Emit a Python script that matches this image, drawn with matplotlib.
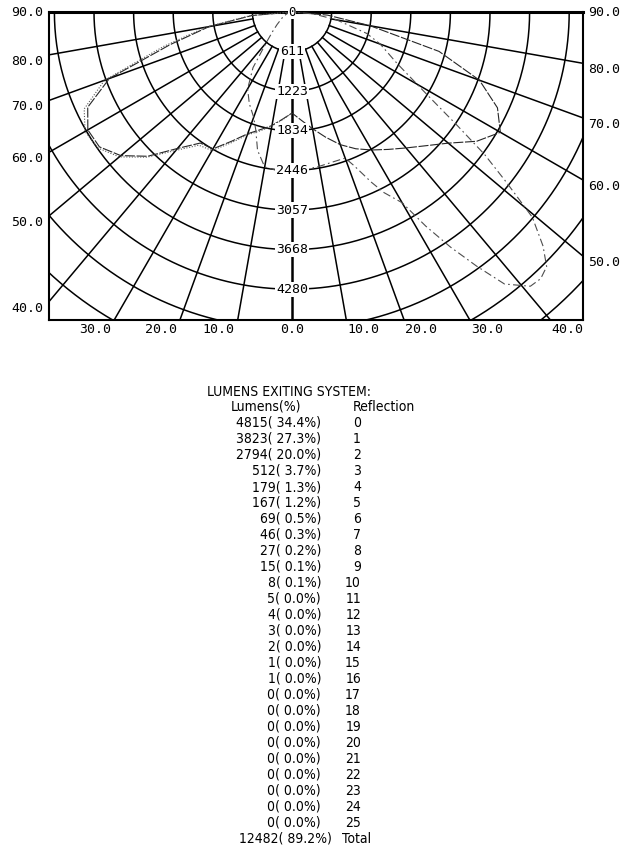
import numpy as np
import matplotlib
matplotlib.use("Agg")
import matplotlib.pyplot as plt
from matplotlib import font_manager as fm

W, H = 623, 850

# polar grid
ring_step = 611.4
ring_labels = [611, 1223, 1834, 2446, 3057, 3668, 4280]
spoke_angles = [10, 20, 30, 40, 50, 60, 70, 80, 90]
left_ticks = [90, 80, 70, 60, 50, 40]
right_ticks = [90, 80, 70, 60, 50]
bottom_left_ticks = [30, 20, 10]
bottom_right_ticks = [10, 20, 30, 40]

# candela curves (angle from nadir, negative = left side)
a_ang = [-90, -85, -80, -75, -70, -65, -60, -55, -50, -45, -40, -35, -30, -25, -20, -15, -10, -5, 0,
         5, 10, 15, 20, 25, 30, 35, 40, 45, 50, 55, 60, 65, 70, 75, 80, 85, 90]
a_cd = [0, 620, 1300, 1950, 3000, 3480, 3640, 3630, 3450, 3150, 2750, 2470, 2440, 2200, 2000, 1880, 1780, 1660, 1560,
        1680, 1830, 2000, 2180, 2330, 2460, 2590, 2740, 2920, 3150, 3480, 3715, 3500, 3080, 2350, 1230, 550, 0]

b_ang = [-90, -80, -70, -60, -50, -45, -40, -35, -30, -25, -20, -17, -14, -10, -5, 0,
         5, 10, 15, 20, 22, 25, 27, 30, 32, 34, 36, 38, 41, 43, 45, 47, 49.5, 51.5, 53.5, 55.5, 58.5,
         64, 70, 74, 80, 85, 90]
b_cd = [0, 40, 90, 170, 300, 420, 620, 1050, 1370, 1560, 1730, 1910, 2200, 2430, 2460, 2450,
        2440, 2420, 2400, 2400, 2560, 2900, 3130, 3400, 3900, 4380, 4850, 5330, 5610, 5630, 5560, 5300, 4880, 4240,
        3700, 3100, 2450, 1800, 1450, 1200, 700, 330, 0]

c_ang = [-90, -85, -80, -75, -70, -65, -60, -55, -50, -45, -40, -35, -30, -25, -20, -15, -10, -5, 0]
c_cd = [0, 650, 1350, 2050, 3080, 3540, 3690, 3660, 3480, 3170, 2790, 2510, 2470, 2230, 2020, 1900, 1790, 1670, 1560]

# lumens table
reflection = list(range(26))
lumens = [4815, 3823, 2794, 512, 179, 167, 69, 46, 27, 15, 8, 5, 4, 3, 2, 1, 1,
          0, 0, 0, 0, 0, 0, 0, 0, 0]
percent = [34.4, 27.3, 20.0, 3.7, 1.3, 1.2, 0.5, 0.3, 0.2, 0.1, 0.1, 0.0, 0.0, 0.0, 0.0, 0.0, 0.0,
           0.0, 0.0, 0.0, 0.0, 0.0, 0.0, 0.0, 0.0, 0.0]
total_lumens = 12482
total_percent = 89.2

table_font = fm.FontProperties(family="DejaVu Sans", stretch="condensed", size=10)

fig = plt.figure(figsize=(W / 100, H / 100), dpi=100)

# plot box in pixels
bx0, bx1, by0, by1 = 49, 583, 12, 320
ox = 292
k = 39.6 / ring_step  # pixels per candela
ax = fig.add_axes([bx0 / W, 1 - by1 / H, (bx1 - bx0) / W, (by1 - by0) / H])
ax.set_xlim((bx0 - ox) / k, (bx1 - ox) / k)
ax.set_ylim(-(by1 - by0) / k, 0)
x0, x1 = ax.get_xlim()
y0 = ax.get_ylim()[0]

mono = "DejaVu Sans Mono"

# rings
t = np.radians(np.linspace(-90, 90, 361))
for i in range(1, 12):
    r = ring_step * i
    ax.plot(r * np.sin(t), -r * np.cos(t), color="black", lw=1.1, zorder=2)

# spokes
for a in spoke_angles:
    for side in (-1, 1):
        ang = np.radians(a) * side
        rr = np.array([ring_step, 9000])
        ax.plot(rr * np.sin(ang), -rr * np.cos(ang), color="black", lw=1.1, zorder=2)
ax.plot([0, 0], [0, y0], color="black", lw=1.8, zorder=2)


def polar_xy(ang, cd):
    ang = np.radians(np.array(ang, dtype=float))
    cd = np.array(cd, dtype=float)
    return cd * np.sin(ang), -cd * np.cos(ang)


xa, ya = polar_xy(a_ang, a_cd)
ax.plot(xa, ya, color="0.15", lw=0.8, ls=(0, (9, 1.5)), zorder=3)
xb, yb = polar_xy(b_ang, b_cd)
ax.plot(xb, yb, color="0.3", lw=0.8, ls=(0, (7, 3, 1.5, 3)), zorder=3)
xc, yc = polar_xy(c_ang, c_cd)
ax.plot(xc, yc, color="0.35", lw=0.8, ls=(0, (1, 1.5)), zorder=3)

# ring labels
for i, lab in enumerate(ring_labels):
    ax.text(0, -ring_step * (i + 1), str(lab), ha="center", va="center", fontsize=9.5,
            family=mono, zorder=5, bbox=dict(boxstyle="square,pad=0.08", fc="white", ec="none"))
ax.text(0, 0, "0", ha="center", va="center", fontsize=9, family=mono, zorder=6, clip_on=False,
        bbox=dict(boxstyle="square,pad=0.02", fc="white", ec="none"))

for s in ax.spines.values():
    s.set_linewidth(1.5)
ax.spines["top"].set_linewidth(2.2)
ax.set_xticks([])
ax.set_yticks([])


def hit(a, side):
    ang = np.radians(a)
    dx, dy = side * np.sin(ang), -np.cos(ang)
    xe = x1 if side > 0 else x0
    ts = [xe / dx]
    if dy < -1e-9:
        ts.append(y0 / dy)
    tt = min(ts)
    return tt * dx, tt * dy


for a in left_ticks:
    hx, hy = hit(a, -1)
    ax.annotate(f"{a:.1f}", xy=(x0, hy), xytext=(-6, 0), textcoords="offset pixels",
                ha="right", va="center" if a == 90 else "top", fontsize=9.5, family=mono,
                annotation_clip=False)
for a in right_ticks:
    hx, hy = hit(a, 1)
    ax.annotate(f"{a:.1f}", xy=(x1, hy), xytext=(5, 0), textcoords="offset pixels",
                ha="left", va="center" if a == 90 else "top", fontsize=9.5, family=mono,
                annotation_clip=False)
for a in bottom_left_ticks:
    hx, hy = hit(a, -1)
    ax.annotate(f"{a:.1f}", xy=(hx, y0), xytext=(-3, -3), textcoords="offset pixels",
                ha="right", va="top", fontsize=9.5, family=mono, annotation_clip=False)
for a in bottom_right_ticks:
    hx, hy = hit(a, 1)
    ax.annotate(f"{a:.1f}", xy=(hx, y0), xytext=(1, -3), textcoords="offset pixels",
                ha="left", va="top", fontsize=9.5, family=mono, annotation_clip=False)
ax.annotate("0.0", xy=(0, y0), xytext=(0, -3), textcoords="offset pixels",
            ha="center", va="top", fontsize=9.5, family=mono, annotation_clip=False)


def px(x, y):
    return x / W, 1 - y / H


fig.text(*px(289, 392), "LUMENS EXITING SYSTEM:", ha="center", va="center", fontproperties=table_font)
fig.text(*px(266, 407), "Lumens(%)", ha="center", va="center", fontproperties=table_font)
fig.text(*px(384, 407), "Reflection", ha="center", va="center", fontproperties=table_font)
for i, (lum, pct, rf) in enumerate(zip(lumens, percent, reflection)):
    yy = 423 + 16 * i
    fig.text(*px(321, yy), f"{lum}( {pct:.1f}%)", ha="right", va="center", fontproperties=table_font)
    fig.text(*px(361, yy), str(rf), ha="right", va="center", fontproperties=table_font)
yy = 423 + 16 * len(lumens)
fig.text(*px(332, yy), f"{total_lumens}( {total_percent:.1f}%)", ha="right", va="center",
         fontproperties=table_font)
fig.text(*px(342, yy), "Total", ha="left", va="center", fontproperties=table_font)

fig.savefig("out.png", dpi=100)
